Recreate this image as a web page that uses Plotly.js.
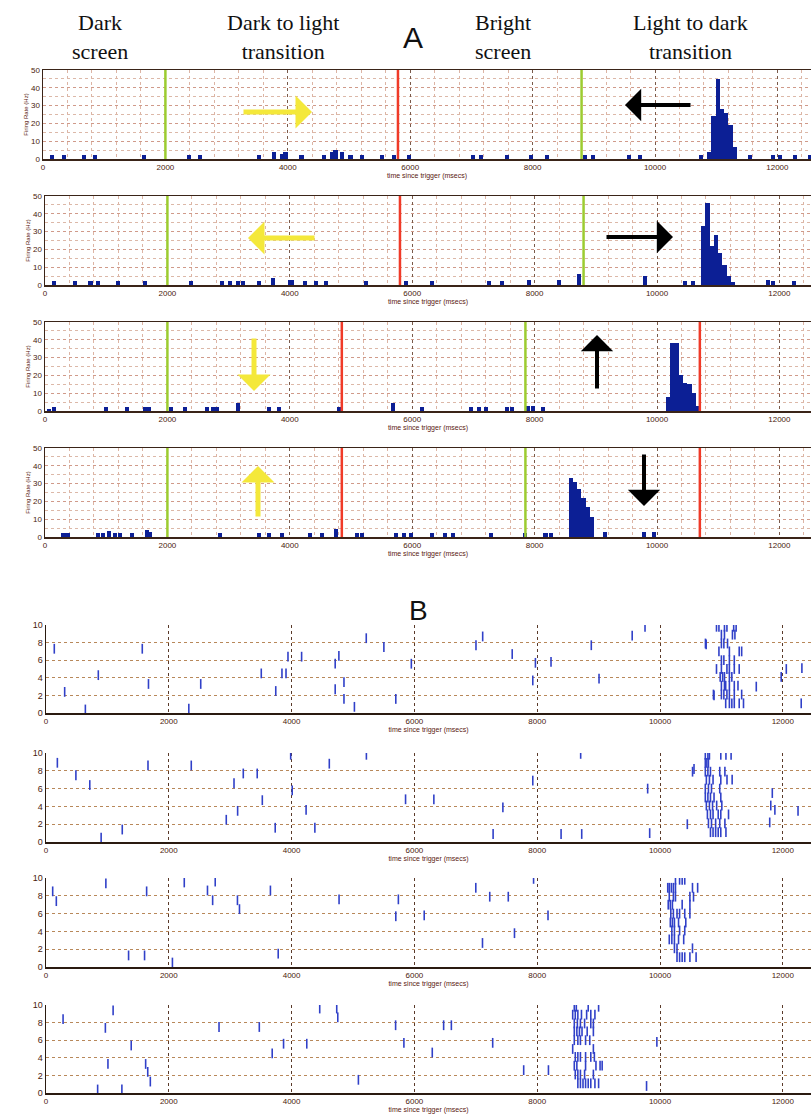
<!DOCTYPE html>
<html><head><meta charset="utf-8">
<script src="https://cdn.plot.ly/plotly-3.0.1.min.js"></script>
<style>html,body{margin:0;padding:0;background:#fff}#c{width:811px;height:1115px}</style>
</head><body><div id="c"></div><script>
// ---------- Panel A: firing-rate histograms (time ms, rate Hz) ----------
const a1_t = [152,343,670,849,1650,2384,2564,3528,3773,3909,3963,4225,4589,4725,4779,4888,5024,5215,5542,5732,5980,7026,7157,7582,7974,8235,8856,8987,9575,9755,10752,10885,10955,11025,11095,11165,11235,11305,11552,11928,12042,12287,12532];
const a1_rate = [2,2,2,2.5,2,2,2,2,4,3,4,2,2,4,5,4,2,2,2,2,2,2,2,2,2,2,2,2,2,2,2.5,4,24,45,28,26,19,7,2,2,2.5,2,2];
const a2_t = [147,490,743,866,1193,1634,2386,2892,3023,3154,3235,3497,3725,4003,4036,4248,4428,4591,5245,5899,6324,7255,7467,7908,8399,8725,9804,10458,10588,10755,10825,10895,10965,11035,11105,11175,11245,11814,11895,12239];
const a2_rate = [2,2,2,2,2,2,2,2,2,2.5,2.5,2.5,4,3,3,2,2,2,2,2,2,2.5,2.5,3,3,6,5,2,2,33,46,22,28,18,11,5,1.5,3,2,2];
const a3_t = [60,150,1000,1340,1630,1700,2060,2290,2650,2750,2810,3150,3660,3820,4800,5690,6160,6960,7090,7210,7550,7630,7890,7970,8140,10180,10250,10320,10390,10460,10530,10600,10665];
const a3_rate = [1,2,2,2,2.5,2.5,2,2,2.5,2.5,2.5,4.5,2,2,2.5,4.5,2.5,2,2,2,2,2,3,3,2,8,38,38,20,16,15,10,3];
const a4_t = [300,370,870,950,1045,1145,1225,1420,1670,1720,2860,3500,3660,3870,4330,4530,4750,5100,5180,5740,5870,5980,6320,6540,6670,7290,7840,8180,8270,8590,8660,8730,8800,8870,8940,9150,9790,9950];
const a4_rate = [2,2,2,2,3.5,2,2,2,4,3,2.5,2,2,2,2.5,2.5,4.5,2.5,2.5,2.5,2.5,2.5,2,2,2,2,2.5,2.5,2.5,33,31,27,22,17,11,3,3,3];
// stimulus transition times (ms)
const a_green = [[2000,8800],[2000,8800],[2000,7850],[2000,7850]];
const a_red = [[5800],[5800],[4850,10700],[4850,10700]];
// ---------- Panel B: spike rasters (time ms, trial row) ----------
const b1_t = [135,304,641,852,1568,1669,2326,2520,3506,3742,3843,3909,3941,4163,4710,4710,4770,4853,4853,5023,5216,5503,5697,5950,7003,7112,7593,7928,7971,8225,8881,9007,9547,9756,10752,10880,11568,11974,12057,12311,12300,
 10920,10960,11050,11090,11200,11240, 11000,11050,11180,11220, 10740,11000,11040,11100, 10960,11130,11290,11330, 11000,11040,11130,11210, 10920,11000,11090,11130,11210,11290, 10980,11020,11050,11130,11170, 11000,11050,11070,11130,11210,11270, 10870,11000,11040,11090,11130,11210,11330, 11070,11130,11170,11210,11290,11360];
const b1_y = [7.3,2.4,0.4,4.3,7.3,3.3,0.5,3.3,4.5,2.5,4.5,4.5,6.4,6.4,5.6,2.7,6.5,3.5,1.6,0.7,8.5,7.5,1.6,5.6,7.7,8.7,6.7,3.7,5.7,5.8,7.7,3.9,8.8,9.8,7.8,2,3,4.1,5.0,5.1,1.1,
 9.8,9.8,9.8,9.8,9.8,9.8, 8.9,8.9,8.9,8.9, 7.9,7.9,7.9,7.9, 7.0,7.0,7.0,7.0, 6.0,6.0,6.0,6.0, 5.0,5.0,5.0,5.0,5.0,5.0, 4.1,4.1,4.1,4.1,4.1, 3.1,3.1,3.1,3.1,3.1,3.1, 2.1,2.1,2.1,2.1,2.1,2.1,2.1, 1.1,1.1,1.1,1.1,1.1,1.1];
const b2_t = [185,487,713,898,1242,1661,2366,2936,3062,3121,3213,3440,3523,3733,3985,4010,4236,4379,4614,5218,5856,6317,7282,7441,7928,8389,8708,8725,9799,9832,10445,10554,11804,11829,11871,11787,12248,
 10738,10780,10805,10990,11074,11158, 10738,10763,10789, 10530,10738,10780,10822,10973,11057, 10755,10805,10864,10990,11091,11175, 10738,10789,10839,10973, 10738,10780,10822,10880,10990, 10755,10805,10856,10923,11007, 10772,10822,10864,10948,10990,11116, 10789,10839,10906,10973,11057, 10822,10864,10906,10948,10990,11074];
const b2_y = [8.9,7.5,6.4,0.5,1.4,8.6,8.6,2.5,6.6,3.5,7.7,7.7,4.7,1.6,9.8,5.8,3.6,1.6,8.8,9.8,4.8,4.8,0.9,3.9,6.9,0.9,9.9,0.9,6,1,2,8.2,4.1,5.5,3.6,2.2,3.5,
 9.8,9.8,9.8,9.8,9.8,9.8, 8.9,8.9,8.9, 7.9,7.9,7.9,7.9,7.9,7.9, 7.0,7.0,7.0,7.0,7.0,7.0, 6.0,6.0,6.0,6.0, 5.0,5.0,5.0,5.0,5.0, 4.1,4.1,4.1,4.1,4.1, 3.1,3.1,3.1,3.1,3.1,3.1, 2.1,2.1,2.1,2.1,2.1, 1.1,1.1,1.1,1.1,1.1,1.1];
const b3_t = [109,168,975,1345,1605,1639,2059,2252,2630,2714,2756,3118,3151,3655,3782,4773,5697,5739,6160,7000,7109,7227,7529,7630,7941,8176,
 10252,10319,10361,10403, 10126,10151,10185,10218,10252,10529,10613, 10151,10218,10252,10487,10546, 10134,10168,10202,10361,10487, 10176,10218,10277,10319,10403,10487, 10168,10202,10235,10302,10420, 10193,10235,10319,10403, 10151,10193,10235,10302,10386, 10235,10277,10529, 10277,10319,10361,10403,10487,10588];
const b3_y = [8.5,7.4,9.4,1.3,1.3,8.5,0.5,9.5,8.6,7.5,9.6,7.5,6.5,8.6,1.5,7.6,5.7,7.6,5.8,8.9,2.7,7.9,7.9,3.8,9.9,5.8,
 9.8,9.8,9.8,9.8, 8.9,8.9,8.9,8.9,8.9,8.9,8.9, 7.9,7.9,7.9,7.9,7.9, 7.0,7.0,7.0,7.0,7.0, 6.0,6.0,6.0,6.0,6.0,6.0, 5.0,5.0,5.0,5.0,5.0, 4.1,4.1,4.1,4.1, 3.1,3.1,3.1,3.1,3.1, 2.1,2.1,2.1, 1.1,1.1,1.1,1.1,1.1,1.1];
const b4_t = [278,841,967,1009,1093,1236,1388,1623,1657,1699,2818,3474,3684,3869,4247,4458,4735,4752,5088,5694,5829,6291,6476,6602,7275,7780,8183,9781,9949,
 8604,8637,8831,9000, 8578,8620,8662,8721,8805,8873,8940, 8604,8654,8704,8772,8873,8915, 8604,8646,8688,8730,8814,8915, 8604,8662,8704,8788,8856, 8578,8915, 8620,8662,8704,8788,8873,8931, 8604,8646,8788,8957,9024,9058, 8620,8662,8704,8772,8915, 8662,8704,8746,8788,8831,8873,8940,9000];
const b4_y = [8.4,0.4,7.4,3.3,9.4,0.4,5.4,3.3,2.4,1.3,7.5,7.5,4.5,5.6,5.6,9.6,9.6,8.6,1.5,7.7,5.7,4.6,7.7,7.7,5.7,2.6,2.6,0.8,5.8,
 9.8,9.8,9.8,9.8, 8.9,8.9,8.9,8.9,8.9,8.9,8.9, 7.9,7.9,7.9,7.9,7.9,7.9, 7.0,7.0,7.0,7.0,7.0,7.0, 6.0,6.0,6.0,6.0,6.0, 5.0,5.0, 4.1,4.1,4.1,4.1,4.1,4.1, 3.1,3.1,3.1,3.1,3.1,3.1, 2.1,2.1,2.1,2.1,2.1, 1.1,1.1,1.1,1.1,1.1,1.1,1.1,1.1];
const a_yticks = [0,10,20,30,40,50];
const b_yticks = [0,2,4,6,8,10];
const x_ticks = [0,2000,4000,6000,8000,10000,12000];
const x_ticktext = ['0','2000','4000','6000','8000','10000','12000'];
const header = ['Dark<br>screen','Dark to light<br>transition','Bright<br>screen','Light to dark<br>transition'];
const xTitle = 'time since trigger (msecs)';
const yTitleA = 'Firing Rate (Hz)';

// ---------- layout helpers ----------
const W = 811, H = 1115;
const py = v => 1 - v / H, pxx = v => v / W;
const aPanels = [{t:70,b:159,l:43},{t:196,b:285,l:45},{t:322,b:411,l:45},{t:448,b:537,l:45}];
const bPanels = [{t:625,b:713,l:46},{t:753,b:842,l:46},{t:878,b:967,l:46},{t:1005,b:1093,l:46}];
const aData = [[a1_t,a1_rate],[a2_t,a2_rate],[a3_t,a3_rate],[a4_t,a4_rate]];
const bData = [[b1_t,b1_y],[b2_t,b2_y],[b3_t,b3_y],[b4_t,b4_y]];
const tickFont = {family:'Liberation Sans, Arial', size:8, color:'#4a1a0c'};
const traces = [], shapes = [], annotations = [];
const layout = {width:W, height:H, margin:{l:0,r:0,t:0,b:0}, paper_bgcolor:'#fff', plot_bgcolor:'#fff', showlegend:false, bargap:0};

aPanels.forEach((p,i) => {
  const n = i + 1, xs = n === 1 ? '' : String(n);
  traces.push({type:'bar', x:aData[i][0], y:aData[i][1], width:70, xaxis:'x'+xs, yaxis:'y'+xs,
    marker:{color:'#0c1f95', line:{width:0}}, hoverinfo:'skip'});
  const pxPerMs = 0.0612;
  layout['xaxis'+xs] = {domain:[pxx(p.l),1], range:[0,(W-p.l)/pxPerMs], anchor:'y'+xs,
    tickvals:x_ticks, ticktext:x_ticktext, ticks:'', tickfont:tickFont, showline:true, mirror:true, linecolor:'#3a2418', linewidth:1.5,
    showgrid:true, gridcolor:'#7a5a4a', griddash:'dot', gridwidth:1, zeroline:false,
    minor:{dtick:400, tick0:0, showgrid:true, gridcolor:'#dcb4a4', griddash:'dot', gridwidth:1},
    title:{text:xTitle, font:{family:'Liberation Sans, Arial', size:7, color:'#5a2010'}, standoff:1}};
  layout['yaxis'+xs] = {domain:[py(p.b),py(p.t)], range:[0,50], anchor:'x'+xs,
    tickvals:a_yticks, ticks:'', tickfont:tickFont, showline:true, mirror:true, linecolor:'#3a2418', linewidth:1.5,
    showgrid:true, gridcolor:'#d09a8a', griddash:'dot', gridwidth:1, zeroline:false,
    minor:{dtick:5, showgrid:true, gridcolor:'#dcb8a8', griddash:'dot', gridwidth:1},
    title:{text:yTitleA, font:{family:'Liberation Sans, Arial', size:6, color:'#5a2010'}, standoff:2}};
  a_green[i].forEach(t => shapes.push({type:'line', xref:'x'+xs, yref:'y'+xs+' domain', x0:t, x1:t, y0:0, y1:1, line:{color:'#9ccc30', width:2.5}}));
  a_red[i].forEach(t => shapes.push({type:'line', xref:'x'+xs, yref:'y'+xs+' domain', x0:t, x1:t, y0:0, y1:1, line:{color:'#f03a28', width:2.5}}));
});

bPanels.forEach((p,i) => {
  const n = i + 5, xs = String(n);
  traces.push({type:'scatter', mode:'markers', x:bData[i][0], y:bData[i][1], xaxis:'x'+xs, yaxis:'y'+xs,
    marker:{symbol:'line-ns-open', size:7, color:'#3040c8', line:{color:'#3040c8', width:1.6}}, hoverinfo:'skip'});
  const pxPerMs = 0.0614;
  layout['xaxis'+xs] = {domain:[pxx(p.l),1], range:[0,(W-p.l)/pxPerMs], anchor:'y'+xs,
    tickvals:x_ticks, ticktext:x_ticktext, ticks:'', tickfont:tickFont, showline:true, mirror:false, linecolor:'#2a1a10', linewidth:1.5,
    showgrid:true, gridcolor:'#5a3a2a', griddash:'dot', gridwidth:1, zeroline:false,
    title:{text:xTitle, font:{family:'Liberation Sans, Arial', size:7, color:'#5a2010'}, standoff:1}};
  layout['yaxis'+xs] = {domain:[py(p.b),py(p.t)], range:[0,10], anchor:'x'+xs,
    tickvals:b_yticks, ticks:'', tickfont:{family:'Liberation Sans, Arial', size:9, color:'#4a1a0c'},
    showline:true, mirror:false, linecolor:'#2a1a10', linewidth:1.5,
    showgrid:true, gridcolor:'#b8885a', griddash:'dot', gridwidth:1, zeroline:false};
});

// header labels
const headX = [100, 283, 503, 690];
header.forEach((h,i) => annotations.push({text:h, xref:'paper', yref:'paper', x:pxx(headX[i]), y:py(37), xanchor:'center', yanchor:'middle',
  showarrow:false, font:{family:'Liberation Serif, Times New Roman', size:22, color:'#111'}}));
annotations.push({text:'A', xref:'paper', yref:'paper', x:pxx(413), y:py(37), xanchor:'center', yanchor:'middle', showarrow:false,
  font:{family:'Liberation Sans, Arial', size:30, color:'#111'}});
annotations.push({text:'B', xref:'paper', yref:'paper', x:pxx(418), y:py(610), xanchor:'center', yanchor:'middle', showarrow:false,
  font:{family:'Liberation Sans, Arial', size:28, color:'#111'}});

// direction arrows (head position, tail offset in px)
const arrows = [
  {hx:312, hy:112, ax:-70, ay:0, c:'#f4e83a', w:5, s:1.1}, {hx:625, hy:105, ax:67, ay:0, c:'#000', w:4, s:1.35},
  {hx:248, hy:238, ax:68, ay:0, c:'#f4e83a', w:5, s:1.1}, {hx:673, hy:237, ax:-68, ay:0, c:'#000', w:4, s:1.35},
  {hx:254, hy:391, ax:0, ay:-54, c:'#f4e83a', w:5, s:1.1}, {hx:597, hy:335, ax:0, ay:55, c:'#000', w:4, s:1.35},
  {hx:258, hy:466, ax:0, ay:52, c:'#f4e83a', w:5, s:1.1}, {hx:644, hy:506, ax:0, ay:-53, c:'#000', w:4, s:1.35}];
arrows.forEach(a => annotations.push({text:'', xref:'paper', yref:'paper', x:pxx(a.hx), y:py(a.hy), ax:a.ax, ay:a.ay,
  showarrow:true, arrowhead:1, arrowsize:a.s, arrowwidth:a.w, arrowcolor:a.c}));

layout.shapes = shapes;
layout.annotations = annotations;
Plotly.newPlot('c', traces, layout, {staticPlot:true, displayModeBar:false});
</script></body></html>
